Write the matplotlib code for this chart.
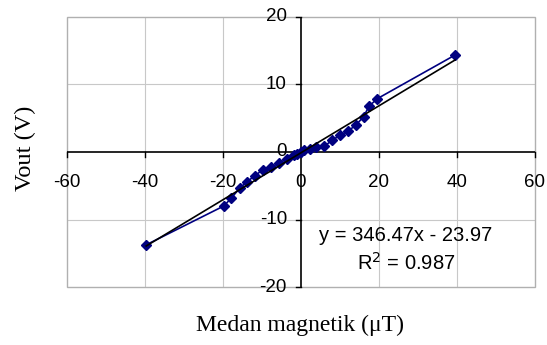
import numpy as np
import matplotlib
matplotlib.use("Agg")
import matplotlib.pyplot as plt

# Data
b_field = [-39.7, -19.8, -17.9, -15.7, -13.8, -11.8, -9.8, -7.8, -5.6, -3.6,
           -1.7, -0.9, 0.0, 0.9, 2.2, 3.9, 6.0, 8.0, 10.1, 12.1, 14.1, 16.1,
           17.4, 19.6, 39.5]
vout = [-13.75, -8.0, -6.85, -5.35, -4.4, -3.5, -2.65, -2.25, -1.65, -1.0,
        -0.5, -0.25, 0.0, 0.25, 0.4, 0.75, 0.85, 1.75, 2.5, 3.1, 4.0, 5.25,
        6.75, 7.9, 14.35]
x_ticks = [-60, -40, -20, 0, 20, 40, 60]
y_ticks = [-20, -10, 0, 10, 20]
eq_text = "y = 346.47x - 23.97"
r2_text = "R$^2$ = 0.987"
x_label = "Medan magnetik (\u03bcT)"
y_label = "Vout (V)"

fig = plt.figure(figsize=(5.47, 3.45), dpi=100)
ax = fig.add_axes([0.1225, 0.168, 0.8555, 0.783])
ax.set_xlim(-60, 60)
ax.set_ylim(-20, 20)

# grid
for xv in [-40, -20, 20, 40]:
    ax.axvline(xv, color="#c8c8c8", lw=0.8, zorder=0)
for yv in [-10, 10]:
    ax.axhline(yv, color="#c8c8c8", lw=0.8, zorder=0)

for s in ["top", "right", "left", "bottom"]:
    ax.spines[s].set_visible(False)
# outer gray border
ax.add_patch(plt.Rectangle((0, 0), 1, 1, transform=ax.transAxes, fill=False,
                           edgecolor="#b0b0b0", lw=1.0, zorder=1, clip_on=False))
# axes through zero
ax.axhline(0, color="black", lw=1.2, zorder=2)
ax.axvline(0, color="black", lw=1.2, zorder=2)
for xt in x_ticks:
    ax.plot([xt, xt], [0, -0.8], color="black", lw=1.0, zorder=2, clip_on=False)
for yt in y_ticks:
    ax.plot([0, -1.3], [yt, yt], color="black", lw=1.0, zorder=2, clip_on=False)
ax.set_xticks([])
ax.set_yticks([])

tick_font = dict(family="Liberation Sans", fontsize=13.5)
for xt in x_ticks:
    ax.text(xt, -3.3, str(xt), ha="center", va="top", **tick_font)
for yt in y_ticks:
    ax.text(-3.6, yt, str(yt), ha="right", va="center", **tick_font)

# data series
ax.plot(b_field, vout, color="#000080", lw=1.2, marker="D", markersize=4.8,
        markerfacecolor="#000080", markeredgecolor="#000080", zorder=3)

# trendline from linear fit
coef = np.polyfit(b_field, vout, 1)
xs = np.array([min(b_field), max(b_field)])
ax.plot(xs, np.polyval(coef, xs), color="black", lw=1.2, zorder=4)

eq_font = dict(family="Liberation Sans", fontsize=14.5)
ax.text(26.9, -12.3, eq_text, ha="center", va="center", **eq_font)
ax.text(26.9, -16.4, r2_text, ha="center", va="center", **eq_font)

fig.text(0.548, 0.058, x_label, ha="center", va="center",
         family="Liberation Serif", fontsize=17)
fig.text(0.046, 0.57, y_label, ha="center", va="center", rotation=90,
         family="Liberation Serif", fontsize=17.5)

fig.savefig("out.png", dpi=100)
